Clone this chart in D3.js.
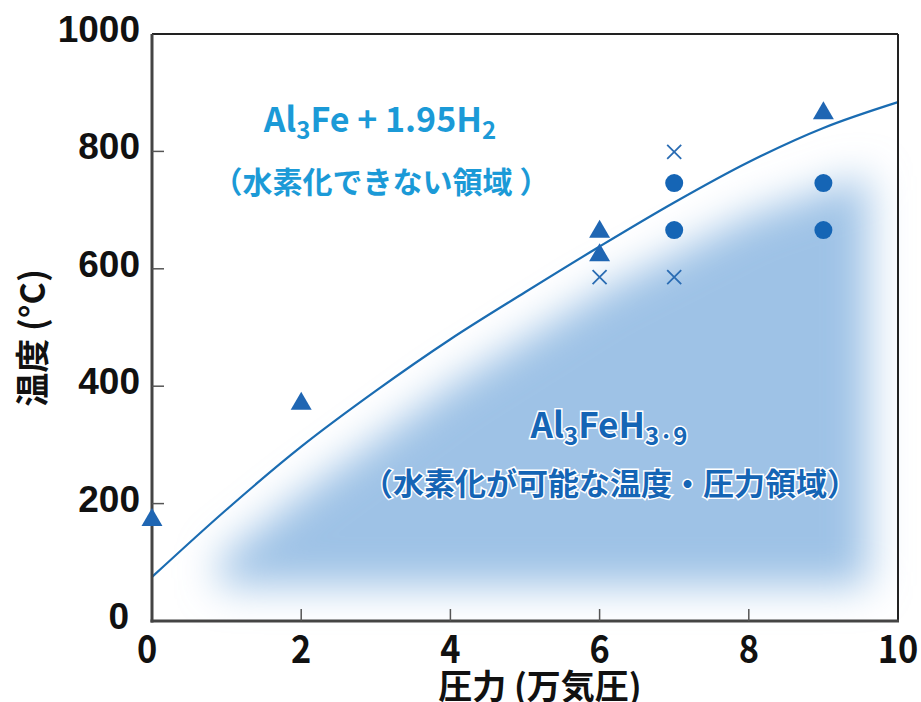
<!DOCTYPE html>
<meta charset="utf-8">
<style>
body { margin: 0; background: #fff; }
text { font-family: "Noto Sans CJK JP", "Noto Sans", sans-serif; font-weight: bold; }
</style>
<svg id="mysvg" width="921" height="702"></svg>
<script src="https://cdn.jsdelivr.net/npm/d3@7"></script>
<script>

// boundary curve (pressure in 10^4 atm, temperature in C)
var curveP = [0, 1, 2, 3, 4, 5, 6, 7, 8, 9, 10];
var curveT = [75, 190, 297, 392, 480, 560, 638, 713, 782, 840, 884];

// measured points
var triP = [0, 2, 6, 6, 9];
var triT = [172, 370, 663, 623, 865];
var circP = [7, 7, 9, 9];
var circT = [746, 666, 746, 666];
var crossP = [6, 7, 7];
var crossT = [586, 799, 586];

// hydride region (blurred fill)
var shadeP = [0.9, 2, 4, 6, 8, 9.6, 9.6, 0.9];
var shadeT = [105, 215, 400, 560, 690, 760, 60, 60];

var xTicks = [0, 2, 4, 6, 8, 10];
var yTicks = [0, 200, 400, 600, 800, 1000];

var svg = d3.select("#mysvg");

var x = d3.scaleLinear().domain([0, 10]).range([152, 898]);
var y = d3.scaleLinear().domain([0, 1000]).range([621, 34]);

var blur = svg.append("defs").append("filter")
	.attr("id", "blur")
	.attr("x", "-20%").attr("y", "-20%")
	.attr("width", "140%").attr("height", "140%");
blur.append("feGaussianBlur").attr("stdDeviation", 20);

// shaded region
svg.append("path")
	.datum(d3.zip(shadeP, shadeT))
	.attr("d", d3.line().x(function(d){ return x(d[0]); }).y(function(d){ return y(d[1]); }).curve(d3.curveLinearClosed))
	.attr("fill", "#9ec2e6")
	.attr("filter", "url(#blur)");

// boundary curve
svg.append("path")
	.datum(d3.zip(curveP, curveT))
	.attr("d", d3.line().x(function(d){ return x(d[0]); }).y(function(d){ return y(d[1]); }).curve(d3.curveMonotoneX))
	.attr("fill", "none")
	.attr("stroke", "#1a6cb2")
	.attr("stroke-width", 2.2);

// frame
svg.append("line").attr("x1", x(0)).attr("x2", x(10)).attr("y1", y(1000)).attr("y2", y(1000))
	.attr("stroke", "#222").attr("stroke-width", 2);
svg.append("line").attr("x1", x(10)).attr("x2", x(10)).attr("y1", y(1000)).attr("y2", y(0))
	.attr("stroke", "#222").attr("stroke-width", 2);
svg.append("line").attr("x1", x(0)).attr("x2", x(0)).attr("y1", y(1000)).attr("y2", y(0) + 1.5)
	.attr("stroke", "#444").attr("stroke-width", 3);
svg.append("line").attr("x1", x(0) - 1.5).attr("x2", x(10) + 1).attr("y1", y(0)).attr("y2", y(0))
	.attr("stroke", "#444").attr("stroke-width", 3);

// inward ticks
svg.selectAll(".ytick")
	.data(yTicks.slice(1, -1))
	.enter().append("line")
	.attr("x1", x(0)).attr("x2", x(0) + 12)
	.attr("y1", function(d){ return y(d); }).attr("y2", function(d){ return y(d); })
	.attr("stroke", "#555").attr("stroke-width", 1.5);
svg.selectAll(".xtick")
	.data(xTicks.slice(1, -1))
	.enter().append("line")
	.attr("x1", function(d){ return x(d); }).attr("x2", function(d){ return x(d); })
	.attr("y1", y(0)).attr("y2", y(0) - 12)
	.attr("stroke", "#555").attr("stroke-width", 1.5);

// tick labels
svg.selectAll(".ylab")
	.data(yTicks)
	.enter().append("text")
	.attr("x", function(d){ return d === 0 ? 129 : 140; })
	.attr("y", function(d){ return y(d) + 8; })
	.attr("text-anchor", "end")
	.style("font-family", "'Liberation Sans', Arial, sans-serif")
	.style("font-size", "37px")
	.attr("fill", "#111")
	.text(function(d){ return d; });
svg.selectAll(".xlab")
	.data(xTicks)
	.enter().append("text")
	.attr("transform", function(d){ return "translate(" + (d === 0 ? x(d) - 5 : x(d)) + ",663) scale(0.88,1)"; })
	.attr("text-anchor", "middle")
	.style("font-size", "39px")
	.attr("fill", "#111")
	.text(function(d){ return d; });

// axis titles
svg.append("text")
	.attr("transform", "translate(45,338) rotate(-90)")
	.attr("text-anchor", "middle")
	.style("font-size", "34px")
	.attr("fill", "#111")
	.text("温度 (°C)");
svg.append("text")
	.attr("x", 540).attr("y", 699)
	.attr("text-anchor", "middle")
	.style("font-size", "34px")
	.attr("fill", "#111")
	.text("圧力 (万気圧)");

// markers
svg.selectAll(".tri")
	.data(d3.zip(triP, triT))
	.enter().append("path")
	.attr("d", d3.symbol(d3.symbolTriangle, 190))
	.attr("transform", function(d){ return "translate(" + x(d[0]) + "," + y(d[1]) + ")"; })
	.attr("fill", "#1f66b3");
svg.selectAll(".circ")
	.data(d3.zip(circP, circT))
	.enter().append("circle")
	.attr("cx", function(d){ return x(d[0]); })
	.attr("cy", function(d){ return y(d[1]); })
	.attr("r", 9)
	.attr("fill", "#1565b5");
svg.selectAll(".cross")
	.data(d3.zip(crossP, crossT))
	.enter().append("path")
	.attr("d", "M-7,-7L7,7M-7,7L7,-7")
	.attr("transform", function(d){ return "translate(" + x(d[0]) + "," + y(d[1]) + ")"; })
	.attr("stroke", "#2a6cb3")
	.attr("stroke-width", 1.8)
	.attr("fill", "none");

// region labels
var t1 = svg.append("text")
	.attr("x", 380).attr("y", 132)
	.attr("text-anchor", "middle")
	.style("font-size", "34px")
	.attr("fill", "#1b9ad7");
t1.append("tspan").text("Al");
t1.append("tspan").attr("dy", 7).style("font-size", "24px").text("3");
t1.append("tspan").attr("dy", -7).text("Fe + 1.95H");
t1.append("tspan").attr("dy", 7).style("font-size", "24px").text("2");

svg.append("text")
	.attr("x", 381).attr("y", 193)
	.attr("text-anchor", "middle")
	.style("font-size", "30px")
	.attr("fill", "#1b9ad7")
	.text("（水素化できない領域 ）");

var t2 = svg.append("text")
	.attr("x", 609).attr("y", 438)
	.attr("text-anchor", "middle")
	.style("font-size", "35px")
	.attr("fill", "#1565b5")
	.attr("stroke", "#fff")
	.attr("stroke-width", 3)
	.attr("paint-order", "stroke");
t2.append("tspan").text("Al");
t2.append("tspan").attr("dy", 7).style("font-size", "24px").text("3");
t2.append("tspan").attr("dy", -7).text("FeH");
t2.append("tspan").attr("dy", 7).style("font-size", "24px").text("3·9");

svg.append("text")
	.attr("x", 610).attr("y", 495)
	.attr("text-anchor", "middle")
	.style("font-size", "31px")
	.attr("fill", "#1565b5")
	.attr("stroke", "#fff")
	.attr("stroke-width", 3)
	.attr("paint-order", "stroke")
	.text("（水素化が可能な温度・圧力領域）");

</script>
